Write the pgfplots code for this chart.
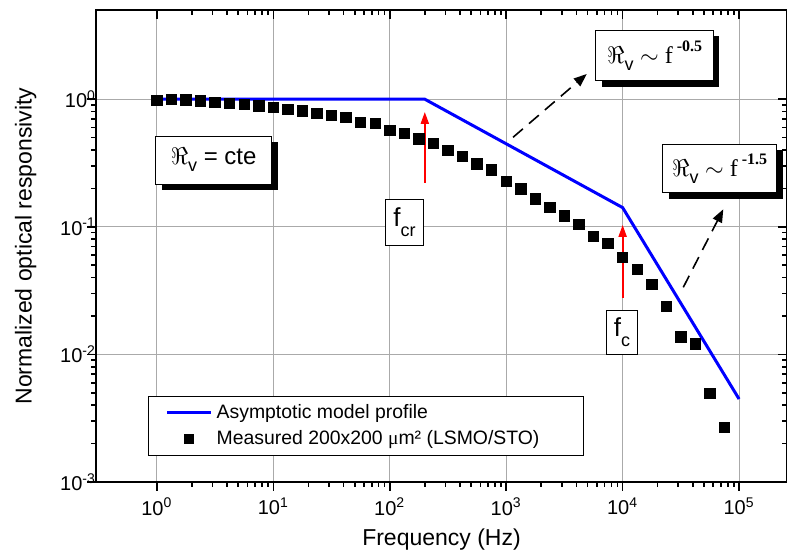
\documentclass[border=0pt]{standalone}
\usepackage{fontspec}
\setmainfont{Liberation Sans}
\newfontfamily\serif{Liberation Serif}
\usepackage{pgfplots}
\pgfplotsset{compat=1.18}
\usetikzlibrary{arrows.meta}
\definecolor{gridgray}{RGB}{170,170,170}
\pgfplotsset{every axis legend/.append style={inner xsep=9pt}}
\begin{document}
\begin{tikzpicture}
\begin{axis}[
  scale only axis, width=345.5pt, height=236pt,
  xmode=log, ymode=log,
  xmin=0.3, xmax=2.58e5, ymin=1e-3, ymax=5,
  xtick={1,10,100,1000,10000,100000},
  ytick={1e-3,1e-2,1e-1,1},
  axis line style={line width=1pt},
  major tick length=4.5pt, minor tick length=2.5pt,
  every tick/.style={black, line width=0.8pt},
  tick pos=left, tick align=outside,
  grid=major, major grid style={gridgray, line width=0.5pt},
  log number format basis/.code 2 args={#1\textsuperscript{\pgfmathprintnumber[assume math mode=true]{#2}}},
  tick label style={font=\fontsize{10}{12}\selectfont},
  yticklabel style={xshift=8pt},
  label style={font=\fontsize{11.5}{13}\selectfont},
  ylabel style={yshift=5pt},
  xlabel={Frequency (Hz)},
  ylabel={Normalized optical responsivity},
  legend style={at={(0.0748,0.1828)}, anchor=north west,
    font=\fontsize{9.7}{11.5}\selectfont, draw=black, fill=white,
    inner ysep=2pt, row sep=0.5pt},
  legend cell align=left,
]
\addplot[blue, line width=1.5pt, legend image code/.code={\draw[blue, line width=1.3pt] (0pt,0pt) -- (22pt,0pt);}] coordinates {(1,1) (200,1) (10000,0.1414) (100000,0.00447)};
\addlegendentry{Asymptotic model profile}
\addplot[only marks, mark=square*, mark size=2.6pt, black, legend image code/.code={\fill[black, draw=none] (8.5pt,-2.5pt) rectangle (13.5pt,2.5pt); \path[draw=none, fill=none] (0pt,0pt) (22pt,0pt);}] coordinates {
(1,0.98) (1.334,1.00) (1.778,0.99) (2.371,0.97) (3.162,0.94) (4.217,0.924)
(5.623,0.91) (7.499,0.886) (10,0.866) (13.34,0.835) (17.78,0.81) (23.71,0.777)
(31.62,0.744) (42.17,0.72) (56.23,0.656) (74.99,0.648) (100,0.568) (133.4,0.541)
(177.8,0.489) (237.1,0.449) (316.2,0.395) (421.7,0.355) (562.3,0.311) (749.9,0.279)
(1000,0.226) (1334,0.198) (1778,0.166) (2371,0.142) (3162,0.122) (4217,0.105)
(5623,0.0844) (7499,0.0744) (10000,0.0578) (13335,0.0465) (17783,0.0355)
(23714,0.0237) (31623,0.0137) (42170,0.0121) (56234,0.00493) (74989,0.00267)};
\addlegendentry{Measured 200x200 {\serif μ}m² (LSMO/STO)\rule{11pt}{0pt}}
% annotations
\draw[red, line width=1pt, -{Triangle[length=6pt,width=4pt]}] (axis cs:200,0.221) -- (axis cs:200,0.795);
\draw[red, line width=1pt, -{Triangle[length=6pt,width=4pt]}] (axis cs:10000,0.0278) -- (axis cs:10000,0.1035);
\draw[black, line width=0.8pt, dash pattern=on 6.5pt off 4pt, -{Triangle[length=6.5pt,width=5pt]}]
  (rel axis cs:0.6035,0.7303) -- (rel axis cs:0.7102,0.8644);
\draw[black, line width=0.8pt, dash pattern=on 6.5pt off 4pt, -{Triangle[length=6.5pt,width=5pt]}]
  (rel axis cs:0.8499,0.4125) -- (rel axis cs:0.9078,0.5778);
% shadows
\fill[black] ([xshift=3pt,yshift=-3pt]rel axis cs:0.1703,0.682) +(-29pt,-12pt) rectangle +(29pt,12pt);
\fill[black] ([xshift=3pt,yshift=-3pt]rel axis cs:0.8085,0.904) +(-29.35pt,-12.65pt) rectangle +(29.35pt,12.65pt);
\fill[black] ([xshift=3pt,yshift=-3pt]rel axis cs:0.9026,0.6646) +(-28.5pt,-12.15pt) rectangle +(28.5pt,12.15pt);
\node[draw=black, fill=white, line width=0.5pt, minimum width=58pt, minimum height=24pt, inner sep=1pt] at (rel axis cs:0.1703,0.682)
  {\fontsize{12}{14}\selectfont $\Re$\raisebox{-3.5pt}{\fontsize{9}{9}\selectfont v} = cte};
\node[draw=black, fill=white, line width=0.5pt, minimum width=58.7pt, minimum height=25.3pt, inner sep=1pt] at (rel axis cs:0.8085,0.904)
  {\fontsize{12}{14}\selectfont $\Re$\raisebox{-3.5pt}{\fontsize{9}{9}\selectfont v} {\serif $\sim$ f}\,\raisebox{6pt}{\fontsize{8}{8}\selectfont\serif\bfseries -0.5}};
\node[draw=black, fill=white, line width=0.5pt, minimum width=57pt, minimum height=24.3pt, inner sep=1pt] at (rel axis cs:0.9026,0.6646)
  {\fontsize{12}{14}\selectfont $\Re$\raisebox{-3.5pt}{\fontsize{9}{9}\selectfont v} {\serif $\sim$ f}\,\raisebox{6pt}{\fontsize{8}{8}\selectfont\serif\bfseries -1.5}};
\node[draw=black, fill=white, line width=0.5pt, minimum width=18.9pt, minimum height=22.9pt, inner sep=1pt] at (rel axis cs:0.4463,0.5504)
  {\fontsize{13}{14}\selectfont f\raisebox{-5pt}{\fontsize{9}{9}\selectfont cr}};
\node[draw=black, fill=white, line width=0.5pt, minimum width=15.3pt, minimum height=22pt, inner sep=1pt] at (rel axis cs:0.7612,0.3178)
  {\fontsize{13}{14}\selectfont f\raisebox{-5pt}{\fontsize{9}{9}\selectfont c}};
\end{axis}
\begin{axis}[
  scale only axis, width=345.5pt, height=236pt,
  xmode=log, ymode=log,
  xmin=0.3, xmax=2.58e5, ymin=1e-3, ymax=5,
  xtick={1,10,100,1000,10000,100000},
  ytick={1e-3,1e-2,1e-1,1},
  axis line style={line width=1pt},
  major tick length=4.5pt, minor tick length=2.5pt,
  every tick/.style={black, line width=0.8pt},
  tick pos=right, tick align=inside,
  xticklabels={}, yticklabels={},
]
\end{axis}
\pgfresetboundingbox
\path (-48pt,-38pt) rectangle (345.5pt,241pt);
\end{tikzpicture}
\end{document}
